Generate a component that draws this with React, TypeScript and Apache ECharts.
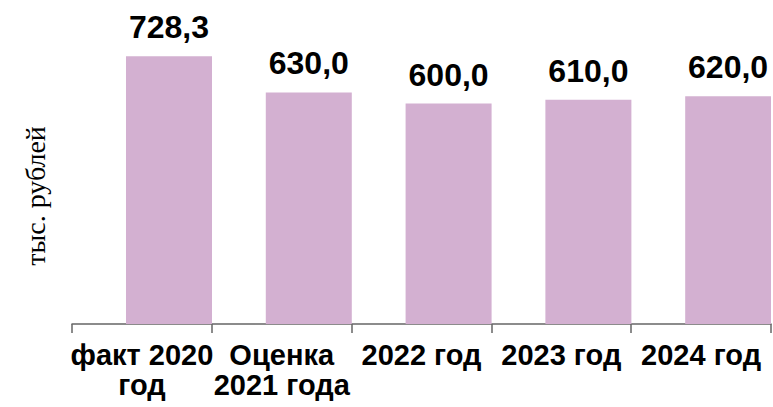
import React, { useEffect, useRef } from "react";
import * as echarts from "echarts";

const categories = ["факт 2020\nгод", "Оценка\n2021 года", "2022 год", "2023 год", "2024 год"];
const values = [728.3, 630.0, 600.0, 610.0, 620.0];
const spacer = ["-", "-", "-", "-", "-"];
const yAxisTitle = "тыс. рублей";

export default function App() {
  const ref = useRef<HTMLDivElement>(null);
  useEffect(() => {
    const chart = echarts.init(ref.current!, null, { renderer: "svg" });
    chart.setOption({
      animation: false,
      grid: { left: 72, right: 2, top: 30, bottom: 83, containLabel: false },
      xAxis: {
        type: "category",
        data: categories,
        axisLine: { show: true, lineStyle: { color: "#666666", width: 1.5 } },
        axisTick: { show: true, length: 9, lineStyle: { color: "#666666", width: 1.5 } },
        axisLabel: {
          interval: 0,
          margin: 16,
          color: "#000",
          fontFamily: "Liberation Sans, Arial, sans-serif",
          fontWeight: "bold",
          fontSize: 29,
          lineHeight: 30,
        },
      },
      yAxis: {
        type: "value",
        min: 0,
        max: 800,
        show: false,
      },
      graphic: [
        {
          type: "text",
          x: 35,
          y: 196,
          rotation: Math.PI / 2,
          style: {
            text: yAxisTitle,
            fill: "#000",
            font: "28px 'Liberation Serif', 'Times New Roman', serif",
            textAlign: "center",
            textVerticalAlign: "middle",
          },
        },
      ],
      series: [
        {
          type: "bar",
          data: spacer,
          barWidth: 86,
          barGap: "-37%",
          itemStyle: { color: "transparent" },
          silent: true,
        },
        {
          type: "bar",
          data: values,
          barWidth: 86,
          barGap: "-37%",
          itemStyle: { color: "#d3b0d1" },
          label: {
            show: true,
            position: "top",
            distance: 13,
            color: "#000",
            fontFamily: "Liberation Sans, Arial, sans-serif",
            fontWeight: "bold",
            fontSize: 32,
            formatter: (p: any) => p.value.toFixed(1).replace(".", ","),
          },
        },
      ],
    });
    return () => chart.dispose();
  }, []);
  return <div ref={ref} style={{ width: 773, height: 407, position: "absolute", left: 0, top: 0 }} />;
}
